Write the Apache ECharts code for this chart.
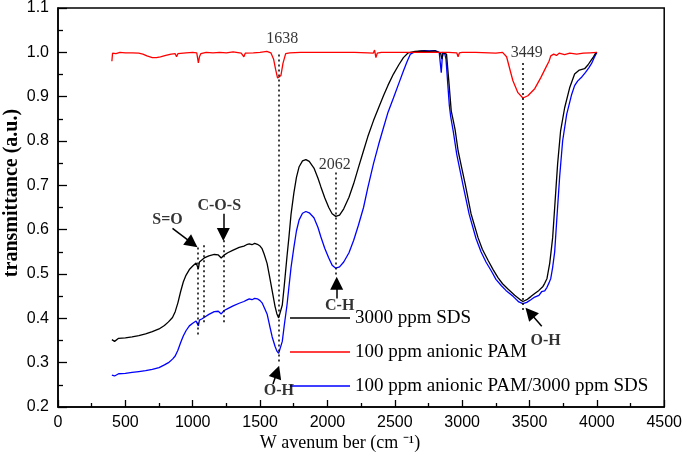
<!DOCTYPE html>
<html>
<head>
<meta charset="utf-8">
<script src="https://cdn.jsdelivr.net/npm/echarts@6/dist/echarts.min.js"></script>
<style>html,body{margin:0;padding:0;background:#fff}#c{width:685px;height:456px}</style>
</head>
<body>
<div id="c"></div>
<script>
// ---- data ----
const xTicks = [0, 500, 1000, 1500, 2000, 2500, 3000, 3500, 4000, 4500];
const yTicks = [0.2, 0.3, 0.4, 0.5, 0.6, 0.7, 0.8, 0.9, 1.0, 1.1];
const seriesNames = ['3000 ppm SDS', '100 ppm anionic PAM', '100 ppm anionic PAM/3000 ppm SDS'];

const sdsX = [400,420,450,500,550,600,650,700,750,790,820,850,870,890,910,930,950,975,1000,1025,1035,1042,1050,1070,1090,1120,1160,1190,1212,1230,1260,1300,1345,1380,1400,1420,1440,1460,1480,1500,1515,1530,1552,1570,1590,1611,1625,1638,1650,1665,1680,1700,1714,1730,1751,1770,1790,1815,1840,1865,1900,1930,1951,1980,2010,2035,2062,2090,2121,2160,2195,2230,2268,2300,2342,2380,2416,2450,2490,2530,2564,2600,2650,2700,2750,2800,2840,2850,2860,2870,2884,2901,2919,2935,2948,2970,3000,3022,3066,3118,3150,3192,3230,3266,3300,3340,3390,3436,3451,3480,3510,3539,3570,3600,3613,3630,3650,3660,3672,3687,3698,3709,3731,3761,3798,3835,3870,3909,3935,3953,3975,3990,4000];
const sdsY = [0.352,0.348,0.355,0.356,0.358,0.361,0.365,0.370,0.376,0.384,0.392,0.402,0.415,0.435,0.460,0.482,0.497,0.510,0.518,0.525,0.524,0.512,0.527,0.532,0.537,0.541,0.544,0.543,0.536,0.542,0.548,0.554,0.560,0.563,0.566,0.568,0.566,0.569,0.567,0.563,0.557,0.545,0.524,0.495,0.462,0.427,0.410,0.401,0.405,0.430,0.475,0.540,0.582,0.635,0.683,0.718,0.742,0.755,0.758,0.754,0.739,0.716,0.697,0.672,0.650,0.636,0.630,0.633,0.647,0.673,0.704,0.740,0.778,0.810,0.846,0.875,0.902,0.926,0.951,0.972,0.988,0.999,1.002,1.003,1.002,1.003,0.998,0.985,0.998,0.999,0.996,0.936,0.868,0.845,0.825,0.778,0.735,0.704,0.636,0.582,0.556,0.531,0.510,0.492,0.478,0.466,0.452,0.441,0.438,0.442,0.449,0.456,0.463,0.472,0.479,0.490,0.524,0.550,0.582,0.650,0.700,0.749,0.823,0.875,0.920,0.951,0.960,0.963,0.972,0.980,0.990,0.998,1.000];

const pamX = [400,405,430,460,500,550,600,630,660,700,730,760,800,840,870,880,890,950,1000,1030,1042,1050,1060,1100,1150,1200,1250,1300,1360,1380,1390,1450,1500,1550,1580,1600,1615,1630,1640,1655,1670,1690,1720,1800,1900,2000,2100,2200,2300,2340,2350,2360,2370,2400,2500,2600,2700,2800,2900,2960,2970,2980,3000,3100,3200,3250,3300,3330,3360,3377,3414,3451,3488,3539,3584,3620,3645,3658,3680,3700,3720,3760,3800,3850,3900,3950,4000];
const pamY = [0.980,0.998,0.997,1.000,0.999,0.999,0.998,0.996,0.992,0.988,0.988,0.990,0.993,0.996,0.997,0.990,0.997,0.999,1.000,0.999,0.976,0.990,0.997,1.000,0.999,1.000,0.999,1.001,0.998,0.990,0.998,0.999,1.000,1.002,0.999,0.985,0.962,0.942,0.938,0.948,0.975,0.997,0.999,1.000,1.000,1.000,1.000,1.000,0.999,0.998,1.005,0.988,0.998,1.000,1.000,1.000,1.000,1.000,1.000,0.999,0.990,0.999,1.000,1.000,0.999,0.998,1.000,0.990,0.955,0.936,0.909,0.897,0.902,0.918,0.943,0.965,0.980,0.992,0.996,0.993,0.998,0.995,0.998,0.996,0.998,0.999,1.000];

const mixX = [400,420,450,500,550,600,650,700,750,790,820,850,870,890,910,930,950,975,1000,1025,1035,1042,1050,1070,1090,1120,1160,1190,1212,1230,1260,1300,1345,1380,1400,1420,1440,1460,1480,1500,1515,1530,1552,1570,1590,1611,1625,1638,1650,1665,1680,1700,1714,1730,1751,1770,1790,1815,1840,1865,1900,1930,1951,1980,2010,2035,2062,2090,2121,2160,2195,2230,2268,2300,2342,2380,2416,2450,2490,2530,2564,2590,2616,2640,2680,2720,2760,2800,2830,2845,2855,2870,2880,2893,2905,2915,2935,2960,3007,3052,3103,3140,3177,3220,3251,3290,3325,3380,3421,3451,3480,3510,3539,3570,3590,3613,3630,3645,3658,3672,3687,3702,3724,3746,3776,3813,3835,3857,3890,3916,3940,3961,3980,4000];
const mixY = [0.272,0.270,0.275,0.276,0.278,0.280,0.282,0.285,0.289,0.295,0.300,0.308,0.315,0.328,0.345,0.360,0.372,0.383,0.389,0.394,0.393,0.383,0.396,0.399,0.403,0.409,0.415,0.416,0.410,0.417,0.422,0.428,0.434,0.438,0.441,0.444,0.442,0.445,0.444,0.440,0.435,0.425,0.410,0.385,0.358,0.337,0.326,0.321,0.325,0.348,0.385,0.430,0.470,0.515,0.560,0.597,0.622,0.637,0.641,0.638,0.627,0.605,0.584,0.558,0.536,0.520,0.513,0.516,0.527,0.548,0.576,0.610,0.650,0.695,0.749,0.792,0.830,0.865,0.897,0.930,0.958,0.978,0.996,1.000,1.002,1.004,1.003,1.004,1.000,0.954,1.000,0.998,0.985,0.930,0.880,0.855,0.820,0.770,0.700,0.635,0.580,0.550,0.527,0.505,0.488,0.474,0.463,0.449,0.437,0.433,0.436,0.442,0.448,0.452,0.460,0.462,0.470,0.480,0.490,0.515,0.550,0.620,0.720,0.800,0.860,0.905,0.925,0.935,0.945,0.955,0.965,0.975,0.988,1.000];

// annotations (data coordinates)
const peakLines = [ // dotted guide lines [x, yTop, yBottom]
  [1638, 0.995, 0.300],
  [2062, 0.729, 0.492],
  [3449, 0.976, 0.418],
  [1040, 0.560, 0.360],
  [1085, 0.565, 0.385],
  [1227, 0.576, 0.391]
];
const arrows = [ // [xFrom, yFrom, xTo, yTo]
  [850, 0.603, 997, 0.569],
  [1227, 0.636, 1227, 0.589],
  [2069, 0.445, 2069, 0.479],
  [3591, 0.382, 3502, 0.413],
  [1596, 0.252, 1626, 0.279]
];
const numberLabels = [[1665, 1.030, '1638'], [2054, 0.747, '2062'], [3480, 0.999, '3449']];
const bondLabels = [[813, 0.623, 'S=O'], [1197, 0.654, 'C-O-S'], [2091, 0.429, 'C-H'], [3620, 0.350, 'O-H'], [1640, 0.236, 'O-H']];

const zip = (xs, ys) => xs.map((x, i) => [x, ys[i]]);
const serif = 'Liberation Serif';
const sans = 'Liberation Sans';
// legend icon: a thin horizontal bar inside a 60x20 box (tiny corner dots keep the box size)
const lineIcon = 'path://M0,0L0.01,0L0.01,0.01L0,0.01Z M0,9.3L60,9.3L60,10.7L0,10.7Z M59.99,19.99L60,19.99L60,20L59.99,20Z';

const chart = echarts.init(document.getElementById('c'), null, {renderer: 'canvas'});
chart.setOption({
  animation: false,
  backgroundColor: '#fff',
  grid: {left: 58, right: 19, top: 6, bottom: 49, show: true, borderColor: '#000', borderWidth: 1.5, backgroundColor: 'transparent'},
  legend: {
    data: seriesNames.map(n => ({name: n, icon: lineIcon})), orient: 'vertical', left: 290, top: 306, padding: 0,
    itemWidth: 60, itemHeight: 20, itemGap: 10,
    textStyle: {fontFamily: serif, fontSize: 19, color: '#000', lineHeight: 20, padding: [4, 0, 0, 0]}
  },
  xAxis: {
    type: 'value', min: xTicks[0], max: xTicks[xTicks.length - 1], interval: 500,
    axisLine: {lineStyle: {color: '#000', width: 1.5}},
    axisTick: {inside: true, length: 7, lineStyle: {color: '#000', width: 1.3}},
    minorTick: {show: true, splitNumber: 2, length: 4, lineStyle: {color: '#000', width: 1.3}},
    axisLabel: {fontFamily: sans, fontSize: 16, color: '#000', margin: 8, formatter: v => String(v)},
    splitLine: {show: false}
  },
  yAxis: {
    type: 'value', min: yTicks[0], max: yTicks[yTicks.length - 1], interval: 0.1,
    axisLine: {show: true, lineStyle: {color: '#000', width: 1.5}},
    axisTick: {show: true, inside: true, length: 9, lineStyle: {color: '#000', width: 1.3}},
    minorTick: {show: true, splitNumber: 2, length: 5, lineStyle: {color: '#000', width: 1.3}},
    axisLabel: {fontFamily: sans, fontSize: 16, color: '#000', margin: 9, formatter: v => v.toFixed(1)},
    splitLine: {show: false}
  },
  graphic: [
    {type: 'text', x: 340, y: 443, style: {text: 'W avenum ber (cm \u207B\u00B9)', font: '18px "Liberation Serif"', fill: '#000', align: 'center', verticalAlign: 'middle'}},
    {type: 'text', rotation: Math.PI / 2, x: 12, y: 193, style: {text: 'transmittance (a.u.)', font: 'bold 20px "Liberation Serif"', fill: '#000', align: 'center', verticalAlign: 'middle'}}
  ],
  series: [
    {
      name: seriesNames[0], type: 'line', data: zip(sdsX, sdsY), symbol: 'none', z: 3,
      lineStyle: {color: '#000', width: 1.3}, itemStyle: {color: '#000'},
      markLine: {
        silent: true, symbol: ['none', 'none'], label: {show: false},
        lineStyle: {color: '#000', type: [2, 3], width: 1.5},
        data: peakLines.map(p => [{coord: [p[0], p[1]]}, {coord: [p[0], p[2]]}])
      }
    },
    {
      name: seriesNames[1], type: 'line', data: zip(pamX, pamY), symbol: 'none', z: 3,
      lineStyle: {color: '#ff0000', width: 1.3}, itemStyle: {color: '#ff0000'}
    },
    {
      name: seriesNames[2], type: 'line', data: zip(mixX, mixY), symbol: 'none', z: 2,
      lineStyle: {color: '#0000ff', width: 1.3}, itemStyle: {color: '#0000ff'},
      markLine: {
        silent: true, symbol: ['none', 'triangle'], symbolSize: 13, label: {show: false},
        lineStyle: {color: '#000', type: 'solid', width: 1.5}, itemStyle: {color: '#000'},
        data: arrows.map(a => [{coord: [a[0], a[1]]}, {coord: [a[2], a[3]]}])
      }
    },
    {
      type: 'scatter', symbolSize: 0, silent: true, z: 5,
      data: numberLabels,
      label: {show: true, position: 'inside', formatter: p => p.data[2], fontFamily: serif, fontSize: 16, color: '#000'}
    },
    {
      type: 'scatter', symbolSize: 0, silent: true, z: 5,
      data: bondLabels,
      label: {show: true, position: 'inside', formatter: p => p.data[2], fontFamily: serif, fontWeight: 'bold', fontSize: 16, color: '#000'}
    }
  ]
});
</script>
</body>
</html>
